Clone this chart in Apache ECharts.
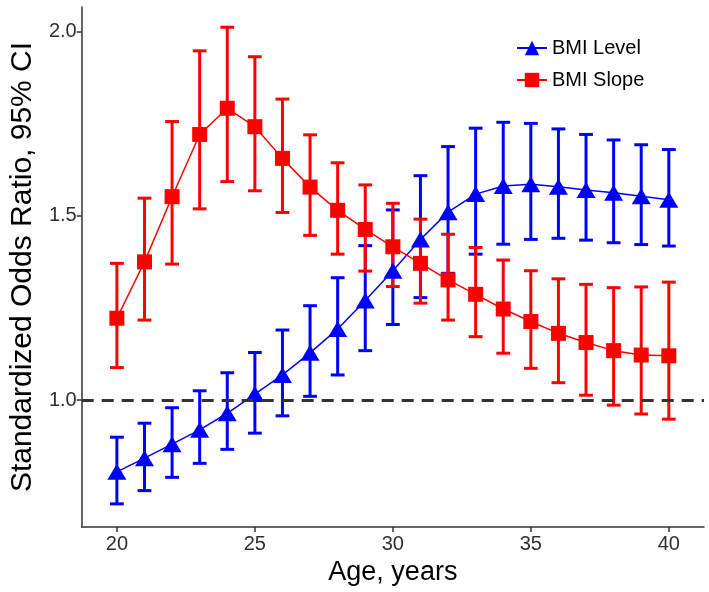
<!DOCTYPE html>
<html>
<head>
<meta charset="utf-8">
<script src="https://cdn.jsdelivr.net/npm/echarts@6/dist/echarts.min.js"></script>
<style>
html,body{margin:0;padding:0;background:#fff;}
#chart{width:709px;height:592px;}
</style>
</head>
<body>
<div id="chart"></div>
<script>
const ages = [20,21,22,23,24,25,26,27,28,29,30,31,32,33,34,35,36,37,38,39,40];
const levelOR = [0.805,0.842,0.880,0.919,0.964,1.016,1.068,1.128,1.193,1.270,1.351,1.436,1.510,1.559,1.581,1.586,1.579,1.570,1.563,1.553,1.544];
const levelLo = [0.718,0.754,0.790,0.828,0.866,0.910,0.957,1.010,1.068,1.134,1.205,1.278,1.344,1.396,1.423,1.436,1.439,1.434,1.427,1.422,1.418];
const levelHi = [0.899,0.937,0.979,1.025,1.074,1.129,1.190,1.256,1.332,1.419,1.516,1.609,1.688,1.738,1.754,1.751,1.736,1.721,1.706,1.693,1.680];
const slopeOR = [1.222,1.375,1.552,1.721,1.792,1.742,1.656,1.578,1.515,1.463,1.416,1.371,1.326,1.287,1.247,1.213,1.181,1.156,1.134,1.122,1.120];
const slopeLo = [1.088,1.217,1.369,1.519,1.593,1.568,1.509,1.447,1.396,1.350,1.308,1.263,1.217,1.172,1.127,1.086,1.047,1.013,0.986,0.962,0.948];
const slopeHi = [1.371,1.548,1.756,1.948,2.012,1.932,1.817,1.720,1.644,1.584,1.534,1.491,1.450,1.414,1.380,1.351,1.329,1.314,1.305,1.307,1.320];
const xTicks = [20,25,30,35,40];
const yTicks = [1.0,1.5,2.0];

const BLUE = '#0000FF', RED = '#FF0000';
const CAP = 0.25;

function errRender(color){
  return function(params, api){
    const x = api.value(0), lo = api.value(1), hi = api.value(2);
    const pLo = api.coord([x, lo]), pHi = api.coord([x, hi]);
    const l = api.coord([x - CAP, lo])[0], r = api.coord([x + CAP, lo])[0];
    const st = {stroke: color, lineWidth: 3, fill: null};
    return {type:'group', children:[
      {type:'line', shape:{x1:pLo[0], y1:pLo[1], x2:pHi[0], y2:pHi[1]}, style:st},
      {type:'line', shape:{x1:l, y1:pLo[1], x2:r, y2:pLo[1]}, style:st},
      {type:'line', shape:{x1:l, y1:pHi[1], x2:r, y2:pHi[1]}, style:st}
    ]};
  };
}

const chart = echarts.init(document.getElementById('chart'), null, {renderer:'canvas'});
const FONT = 'Liberation Sans';
chart.setOption({
  animation:false,
  backgroundColor:'#ffffff',
  grid:{left:72, right:5, top:7, bottom:65},
  legend:{
    orient:'vertical', left:511, top:33, itemWidth:30, itemHeight:18, itemGap:12,
    data:['BMI Level','BMI Slope'],
    textStyle:{fontFamily:FONT, fontSize:20, color:'#000'}
  },
  xAxis:{
    type:'value', min:18.725, max:41.275,
    name:'Age, years', nameLocation:'middle', nameGap:32,
    nameTextStyle:{fontFamily:FONT, fontSize:27, color:'#000'},
    axisLine:{show:true, lineStyle:{color:'#333', width:1.5}},
    axisTick:{show:true, length:5, lineStyle:{color:'#333', width:1.5}, customValues:xTicks},
    axisLabel:{fontFamily:FONT, fontSize:20, color:'#303030', margin:7, customValues:xTicks},
    splitLine:{show:false}
  },
  yAxis:{
    type:'value', min:0.6552, max:2.067,
    name:'Standardized Odds Ratio, 95% CI', nameLocation:'middle', nameGap:42,
    nameTextStyle:{fontFamily:FONT, fontSize:30, color:'#000'},
    axisLine:{show:true, lineStyle:{color:'#333', width:1.5}},
    axisTick:{show:true, length:5, lineStyle:{color:'#333', width:1.5}, customValues:yTicks},
    axisLabel:{fontFamily:FONT, fontSize:20, color:'#303030', margin:5, customValues:yTicks,
      formatter:function(v){return v.toFixed(1);}},
    splitLine:{show:false}
  },
  series:[
    {type:'custom', name:'levelErr', renderItem:errRender(BLUE), z:2, silent:true,
     data: ages.map((a,i)=>[a, levelLo[i], levelHi[i]]), encode:{x:0, y:[1,2]}},
    {type:'custom', name:'slopeErr', renderItem:errRender(RED), z:2, silent:true,
     data: ages.map((a,i)=>[a, slopeLo[i], slopeHi[i]]), encode:{x:0, y:[1,2]}},
    {type:'line', name:'BMI Level', z:3, data: ages.map((a,i)=>[a, levelOR[i]]),
     color:BLUE, lineStyle:{color:BLUE, width:1.5}, itemStyle:{color:BLUE},
     symbol:'triangle', symbolSize:[19,16], showSymbol:true},
    {type:'line', name:'BMI Slope', z:4, data: ages.map((a,i)=>[a, slopeOR[i]]),
     color:RED, lineStyle:{color:RED, width:1.5}, itemStyle:{color:RED},
     symbol:'rect', symbolSize:15, showSymbol:true,
     markLine:{silent:true, symbol:'none', label:{show:false},
       lineStyle:{color:'#333', width:3, type:[12,8]},
       data:[{yAxis:1.0}]}}
  ]
});
</script>
</body>
</html>
